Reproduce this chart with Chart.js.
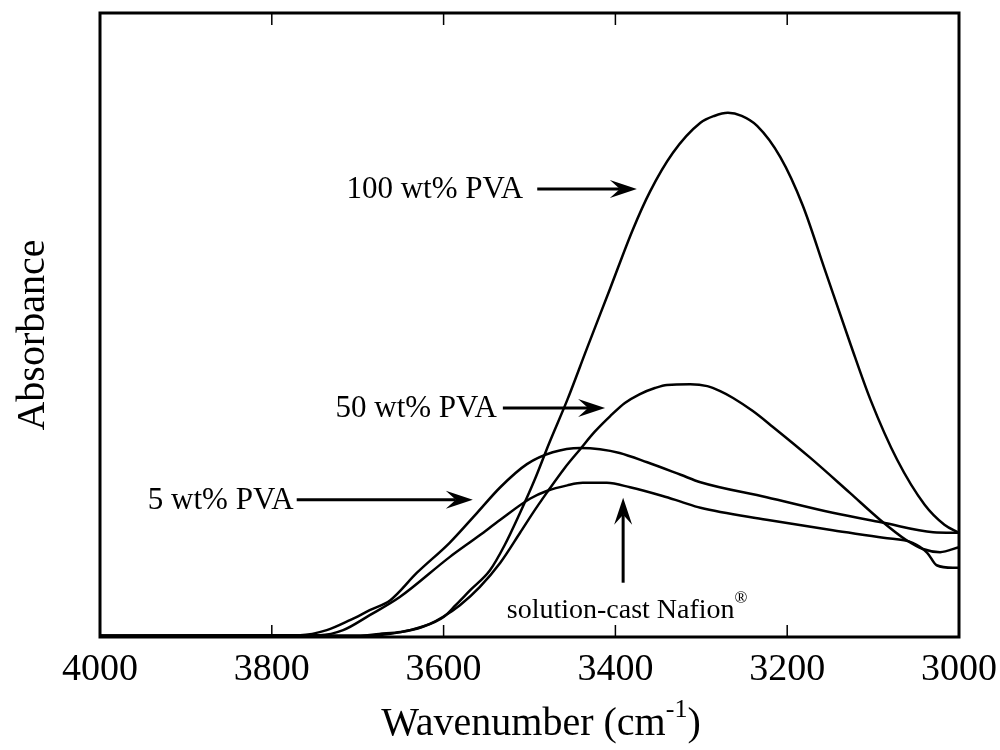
<!DOCTYPE html>
<html>
  <head>
    <title>FTIR Absorbance</title>
    <script src="https://cdn.jsdelivr.net/npm/chart.js"></script>
    <style>
      body { margin: 0; background: #fff; }
      #wrap { width: 1000px; height: 750px; }
    </style>
  </head>
  <body>
    <div id="wrap"><canvas id="ftirChart" width="1000" height="750"></canvas></div>
    <script>
      // --- Data ---
      const wn100 = [4000, 3700, 3675, 3650, 3625, 3600, 3586, 3569, 3546, 3529, 3512, 3494, 3477, 3456, 3433, 3406, 3380, 3360, 3333, 3301, 3285, 3269, 3253, 3235, 3208, 3182, 3156, 3126, 3103, 3072, 3040, 3017, 3000];
      const abs100 = [0.002, 0.002, 0.005, 0.008, 0.016, 0.032, 0.051, 0.075, 0.107, 0.147, 0.196, 0.252, 0.311, 0.380, 0.463, 0.559, 0.652, 0.713, 0.776, 0.824, 0.835, 0.840, 0.835, 0.819, 0.769, 0.692, 0.588, 0.468, 0.380, 0.284, 0.212, 0.180, 0.167];

      const wn50 = [4000, 3686, 3662, 3639, 3616, 3601, 3581, 3558, 3534, 3511, 3496, 3480, 3459, 3441, 3424, 3406, 3389, 3372, 3354, 3340, 3313, 3293, 3278, 3263, 3240, 3217, 3173, 3127, 3092, 3061, 3042, 3022, 3000];
      const abs50 = [0.002, 0.002, 0.005, 0.011, 0.021, 0.032, 0.051, 0.080, 0.119, 0.167, 0.199, 0.231, 0.271, 0.301, 0.329, 0.354, 0.375, 0.389, 0.399, 0.404, 0.405, 0.402, 0.394, 0.383, 0.362, 0.337, 0.287, 0.231, 0.188, 0.155, 0.141, 0.136, 0.144];

      const wn5 = [4000, 3767, 3736, 3709, 3686, 3662, 3631, 3593, 3561, 3534, 3503, 3473, 3441, 3418, 3395, 3363, 3324, 3301, 3224, 3147, 3088, 3030, 3000];
      const abs5 = [0.002, 0.003, 0.011, 0.027, 0.043, 0.059, 0.103, 0.151, 0.199, 0.240, 0.277, 0.296, 0.303, 0.301, 0.295, 0.280, 0.260, 0.248, 0.224, 0.199, 0.183, 0.168, 0.167];

      const wnNafion = [4000, 3744, 3717, 3686, 3651, 3593, 3558, 3534, 3499, 3480, 3456, 3438, 3410, 3383, 3345, 3324, 3301, 3224, 3147, 3088, 3054, 3037, 3026, 3007, 3000];
      const absNafion = [0.002, 0.003, 0.011, 0.035, 0.064, 0.128, 0.163, 0.188, 0.222, 0.234, 0.243, 0.247, 0.247, 0.240, 0.226, 0.217, 0.207, 0.188, 0.171, 0.159, 0.151, 0.135, 0.115, 0.111, 0.111];

      const xTicks = [4000, 3800, 3600, 3400, 3200, 3000];

      // labels with arrows: [text, arrow start wn, arrow start abs, arrow tip wn, arrow tip abs]
      const labels = [
        ["100 wt% PVA", 3491, 0.718, 3375, 0.718],
        ["50 wt% PVA", 3531, 0.367, 3412, 0.367],
        ["5 wt% PVA", 3771, 0.220, 3566, 0.220]
      ];
      const labelGaps = [14, 6, 3];
      const nafionLabel = ["solution-cast Nafion", 3391, 0.087, 3391, 0.223];

      const FONT = "'Liberation Serif', 'Times New Roman', serif";

      function pts(xs, ys) {
        return xs.map((x, i) => ({ x: x, y: ys[i] }));
      }

      function series(label, xs, ys) {
        return {
          label: label,
          data: pts(xs, ys),
          borderColor: "#000",
          borderWidth: 2.5,
          pointRadius: 0,
          cubicInterpolationMode: "monotone",
          fill: false
        };
      }

      function arrow(ctx, x0, y0, x1, y1) {
        const ang = Math.atan2(y1 - y0, x1 - x0);
        const L = 27, W = 9, N = 17;
        ctx.save();
        ctx.strokeStyle = "#000";
        ctx.fillStyle = "#000";
        ctx.lineWidth = 3;
        ctx.beginPath();
        ctx.moveTo(x0, y0);
        ctx.lineTo(x1 - Math.cos(ang) * N, y1 - Math.sin(ang) * N);
        ctx.stroke();
        ctx.translate(x1, y1);
        ctx.rotate(ang);
        ctx.beginPath();
        ctx.moveTo(0, 0);
        ctx.lineTo(-L, -W);
        ctx.lineTo(-N, 0);
        ctx.lineTo(-L, W);
        ctx.closePath();
        ctx.fill();
        ctx.restore();
      }

      // frame, inner ticks, titles and arrow labels
      const decorations = {
        id: "decorations",
        afterDraw(chart) {
          const ctx = chart.ctx;
          const a = chart.chartArea;
          const xs = chart.scales.x, ys = chart.scales.y;
          ctx.save();

          // inward tick marks
          ctx.strokeStyle = "#000";
          ctx.lineWidth = 1.5;
          xTicks.forEach(t => {
            const px = xs.getPixelForValue(t);
            ctx.beginPath();
            ctx.moveTo(px, a.top); ctx.lineTo(px, a.top + 12);
            ctx.moveTo(px, a.bottom); ctx.lineTo(px, a.bottom - 12);
            ctx.stroke();
          });

          // frame
          ctx.lineWidth = 3;
          ctx.strokeRect(a.left, a.top, a.right - a.left, a.bottom - a.top);

          // y title
          ctx.fillStyle = "#000";
          ctx.font = "40px " + FONT;
          ctx.save();
          ctx.translate(44, 335);
          ctx.rotate(-Math.PI / 2);
          ctx.textAlign = "center";
          ctx.textBaseline = "alphabetic";
          ctx.fillText("Absorbance", 0, 0);
          ctx.restore();

          // x title with superscript
          const t1 = "Wavenumber (cm", sup = "-1", t2 = ")";
          ctx.font = "40px " + FONT;
          const w1 = ctx.measureText(t1).width, w3 = ctx.measureText(t2).width;
          ctx.font = "26px " + FONT;
          const w2 = ctx.measureText(sup).width;
          let x = 541 - (w1 + w2 + w3) / 2;
          ctx.textAlign = "left";
          ctx.textBaseline = "alphabetic";
          ctx.font = "40px " + FONT;
          ctx.fillText(t1, x, 735);
          ctx.font = "26px " + FONT;
          ctx.fillText(sup, x + w1, 717);
          ctx.font = "40px " + FONT;
          ctx.fillText(t2, x + w1 + w2, 735);

          // arrow labels
          ctx.font = "31px " + FONT;
          labels.forEach((l, i) => {
            const x0 = xs.getPixelForValue(l[1]), y0 = ys.getPixelForValue(l[2]);
            const x1 = xs.getPixelForValue(l[3]), y1 = ys.getPixelForValue(l[4]);
            ctx.textAlign = "right";
            ctx.textBaseline = "middle";
            ctx.fillText(l[0], x0 - labelGaps[i], y0 + 1);
            arrow(ctx, x0, y0, x1, y1);
          });

          // Nafion label (vertical arrow, text below)
          const nx = xs.getPixelForValue(nafionLabel[1]);
          const ny0 = ys.getPixelForValue(nafionLabel[2]);
          const ny1 = ys.getPixelForValue(nafionLabel[4]);
          arrow(ctx, nx, ny0, nx, ny1);
          ctx.font = "28px " + FONT;
          const wn = ctx.measureText(nafionLabel[0]).width;
          ctx.font = "17px " + FONT;
          const wr = ctx.measureText("®").width;
          const sx = nx + 4 - (wn + wr) / 2;
          ctx.textAlign = "left";
          ctx.textBaseline = "alphabetic";
          ctx.font = "28px " + FONT;
          ctx.fillText(nafionLabel[0], sx, 618);
          ctx.font = "17px " + FONT;
          ctx.fillText("®", sx + wn, 603);

          ctx.restore();
        }
      };

      const ctx = document.getElementById("ftirChart").getContext("2d");
      new Chart(ctx, {
        type: "line",
        data: {
          datasets: [
            series("100 wt% PVA", wn100, abs100),
            series("50 wt% PVA", wn50, abs50),
            series("5 wt% PVA", wn5, abs5),
            series("solution-cast Nafion", wnNafion, absNafion)
          ]
        },
        options: {
          responsive: false,
          animation: false,
          layout: { padding: { left: 100, right: 41, top: 13, bottom: 0 } },
          plugins: {
            legend: { display: false },
            tooltip: { enabled: false }
          },
          scales: {
            x: {
              type: "linear",
              reverse: true,
              min: 3000,
              max: 4000,
              grid: { display: false },
              border: { display: false },
              afterFit(scale) {
                scale.height = 113;
                scale.paddingLeft = 0;
                scale.paddingRight = 0;
              },
              ticks: {
                stepSize: 200,
                maxRotation: 0,
                autoSkip: false,
                padding: 2,
                color: "#000",
                font: { family: FONT, size: 38 },
                callback: v => String(v)
              }
            },
            y: {
              display: false,
              min: 0,
              max: 1
            }
          }
        },
        plugins: [decorations]
      });
    </script>
  </body>
</html>
